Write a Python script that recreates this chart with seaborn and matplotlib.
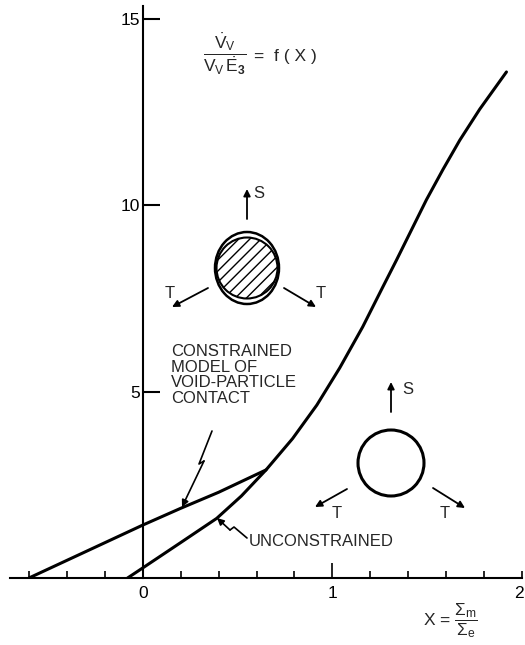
import numpy as np
import matplotlib
matplotlib.use("Agg")
import matplotlib.pyplot as plt
from matplotlib.patches import Circle, Ellipse
from matplotlib.transforms import offset_copy
import seaborn as sns

# Void growth rate f(X) versus X = Sigma_m / Sigma_e
constrained_x = [-0.60, -0.30, 0.00, 0.20, 0.40, 0.65]
constrained_y = [0.00, 0.71, 1.42, 1.87, 2.30, 2.90]

unconstrained_x = [-0.08, 0.00, 0.20, 0.39, 0.52, 0.65, 0.79, 0.918, 1.039,
                   1.160, 1.267, 1.338, 1.417, 1.496, 1.584, 1.672, 1.777,
                   1.918]
unconstrained_y = [0.00, 0.27, 0.95, 1.60, 2.20, 2.90, 3.74, 4.64, 5.64,
                   6.74, 7.82, 8.53, 9.34, 10.15, 10.97, 11.75, 12.58,
                   13.58]

y_ticks = [5, 10, 15]
y_tick_labels = ["5", "10", "15"]
x_ticks = [0, 1, 2]
x_tick_labels = ["0", "1", "2"]

sns.set_theme(style="white")
plt.rcParams["font.family"] = ["Liberation Sans", "DejaVu Sans"]
plt.rcParams["mathtext.fontset"] = "custom"
plt.rcParams["mathtext.rm"] = "Liberation Sans"
plt.rcParams["mathtext.it"] = "Liberation Sans"
plt.rcParams["mathtext.bf"] = "Liberation Sans:bold"
plt.rcParams["hatch.linewidth"] = 1.0

W, H = 525, 645
fig = plt.figure(figsize=(W / 100, H / 100), dpi=100)
fig.patch.set_facecolor("white")

# main data axes: x from -0.7 to 2.0, y from 0 to 15.35
ax = fig.add_axes([10 / W, (H - 578) / H, 512 / W, 572 / H])
ax.set_xlim(-0.70, 2.0)
ax.set_ylim(0, 15.35)
ax.set_facecolor("none")

sns.lineplot(x=constrained_x, y=constrained_y, ax=ax, color="black",
             lw=2.2, sort=False, estimator=None)
sns.lineplot(x=unconstrained_x, y=unconstrained_y, ax=ax, color="black",
             lw=2.2, sort=False, estimator=None)
for ln in ax.lines:
    ln.set_solid_joinstyle("round")
    ln.set_solid_capstyle("round")

for s in ["top", "right"]:
    ax.spines[s].set_visible(False)
ax.spines["left"].set_position(("data", 0))
for s in ["left", "bottom"]:
    ax.spines[s].set_linewidth(1.5)
    ax.spines[s].set_color("black")

ax.set_yticks(y_ticks)
ax.set_yticklabels(y_tick_labels)
ax.set_xticks(x_ticks)
ax.set_xticklabels(x_tick_labels)
ax.set_xticks([v for v in np.round(np.arange(-0.6, 2.01, 0.2), 2)
               if v not in (0.0, 1.0, 2.0)], minor=True)
ax.tick_params(axis="y", direction="in", length=12, width=1.5, pad=2,
               labelsize=12.5, colors="black", left=True)
ax.tick_params(axis="x", which="major", direction="in", length=11, width=1.2,
               pad=6, labelsize=12.5, colors="black", bottom=True)
ax.tick_params(axis="x", which="minor", direction="in", length=5, width=1.2,
               colors="black", bottom=True)
last_tick = ax.xaxis.get_major_ticks()[2]
last_tick.tick1line.set_markersize(5)
ax.set_xlabel("")
ax.set_ylabel("")
# keep the "2" label inside the canvas
fig.canvas.draw()
lbl = ax.get_xticklabels()[2]
lbl.set_transform(offset_copy(lbl.get_transform(), fig=fig, x=-3, units="dots"))

# overlay in pixel coordinates for the sketches and labels
ov = fig.add_axes([0, 0, 1, 1])
ov.set_xlim(0, W)
ov.set_ylim(H, 0)
ov.axis("off")
ov.set_facecolor("none")

ov.text(203, 54,
        r"$\dfrac{\dot{\mathrm{V}}_{\mathrm{V}}}{\mathrm{V}_{\mathrm{V}}\,\dot{\mathrm{E}}_{\mathbf{3}}}$",
        ha="left", va="center", fontsize=12.5)
ov.text(254, 56, "=  f ( X )", ha="left", va="center", fontsize=12.5)

ov.text(423, 621, r"X = $\dfrac{\Sigma_{\mathrm{m}}}{\Sigma_{\mathrm{e}}}$",
        ha="left", va="center", fontsize=12.5)

ov.text(171, 344, "CONSTRAINED\nMODEL OF\nVOID-PARTICLE\nCONTACT",
        ha="left", va="top", fontsize=12, linespacing=1.05)
ov.text(249, 541, "UNCONSTRAINED", ha="left", va="center", fontsize=12)


def arrow(tail, tip, lw=1.3):
    ov.annotate("", xy=tip, xytext=tail,
                arrowprops=dict(arrowstyle="-|>", lw=lw, color="black",
                                mutation_scale=10, shrinkA=0, shrinkB=0))


# particle inside void (constrained)
ov.add_patch(Ellipse((247, 268), 64, 72, fill=False, lw=1.8, ec="black"))
ov.add_patch(Circle((247, 268), 30.5, fill=False, lw=1.5, ec="black",
                    hatch="///"))
arrow((247, 219), (247, 189))
ov.text(253, 193, "S", ha="left", va="center", fontsize=12)
arrow((208, 288), (172, 307))
ov.text(170, 293, "T", ha="center", va="center", fontsize=12)
arrow((284, 288), (316, 307))
ov.text(321, 293, "T", ha="center", va="center", fontsize=12)

# empty void (unconstrained)
ov.add_patch(Circle((391, 463), 33, fill=False, lw=2.2, ec="black"))
arrow((391, 412), (391, 382))
ov.text(402, 389, "S", ha="left", va="center", fontsize=12)
arrow((347, 489), (315, 507))
ov.text(337, 513, "T", ha="center", va="center", fontsize=12)
arrow((433, 488), (465, 508))
ov.text(445, 513, "T", ha="center", va="center", fontsize=12)

# leader lines
ov.plot([212, 199, 204], [431, 464, 461], color="black", lw=1.2)
arrow((204, 461), (182, 507), lw=1.2)
ov.plot([247, 234, 230], [538, 527, 530], color="black", lw=1.2)
arrow((230, 530), (217, 518), lw=1.2)

fig.savefig("out.png", dpi=100, facecolor="white")
